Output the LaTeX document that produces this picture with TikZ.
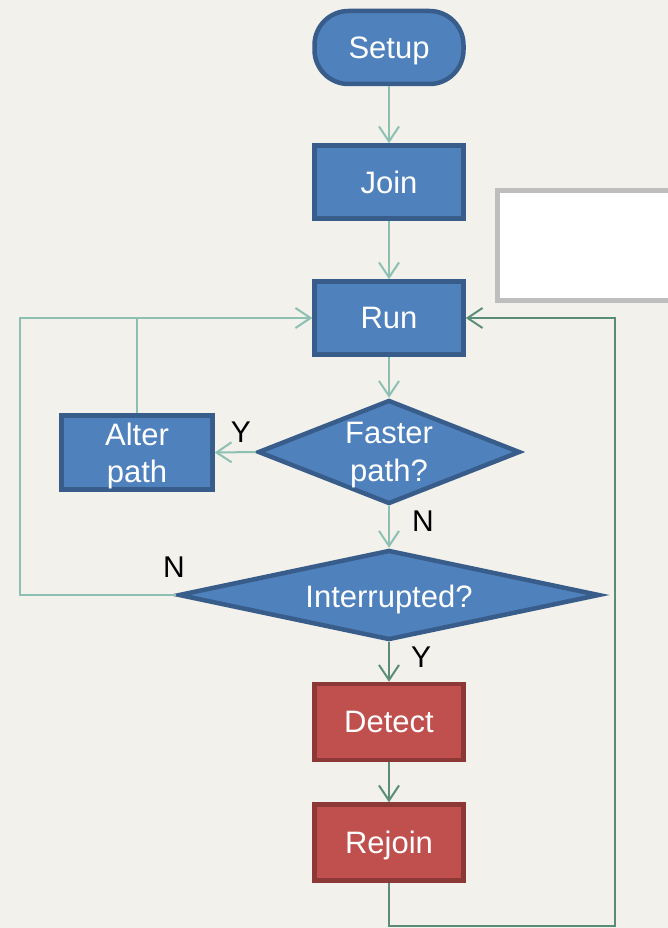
\documentclass[tikz,border=0pt]{standalone}
\usepackage{fontspec}
\setmainfont{Liberation Sans}
\usetikzlibrary{shapes.geometric,arrows.meta}
\definecolor{bgc}{HTML}{F3F1EC}
\definecolor{bfill}{HTML}{4F81BD}
\definecolor{bdraw}{HTML}{385D8A}
\definecolor{rfill}{HTML}{C0504D}
\definecolor{rdraw}{HTML}{8C3836}
\definecolor{lconn}{HTML}{8EBFB3}
\definecolor{dconn}{HTML}{5A8C78}
\definecolor{notegray}{HTML}{BEBEBE}
\tikzset{
  bluebox/.style={rectangle, fill=bfill, draw=bdraw, line width=4.5pt, inner sep=0pt,
    minimum width=149pt, minimum height=73pt, text=white, font=\fontsize{31}{37}\selectfont, align=center, text depth=0pt},
  redbox/.style={bluebox, fill=rfill, draw=rdraw, minimum height=76pt},
  termbox/.style={bluebox, rounded corners=34pt},
  decbox/.style={diamond, fill=bfill, draw=bdraw, line width=4.5pt, inner sep=0pt},
  dtext/.style={text=white, font=\fontsize{31}{38}\selectfont, align=center, inner sep=0pt},
  lab/.style={text=black, font=\fontsize{30}{32}\selectfont, inner sep=0pt},
  tip/.style={-{Straight Barb[length=15pt,width=20pt,line width=2pt]}},
  lline/.style={draw=lconn, line width=2pt},
  dline/.style={draw=dconn, line width=2pt},
}
\begin{document}
\begin{tikzpicture}[x=1pt,y=-1pt]
\useasboundingbox (0,0) rectangle (668,928);
\fill[bgc] (0,0) rectangle (668,928);
% note box (cut off at the right edge)
\node[rectangle, fill=white, draw=notegray, line width=5pt, minimum width=200pt, minimum height=110pt, inner sep=0pt] (note) at (597.5,245.5) {};
% nodes
\node[termbox] (setup) at (389,47.5) {Setup};
\node[bluebox] (join) at (389,182) {Join};
\node[bluebox] (run) at (389,318) {Run};
\node[decbox, minimum width=262pt, minimum height=104pt] (fast) at (389,452) {};
\node[dtext] (fastt) at ([yshift=-3pt]fast.center) {Faster\\path?};
\node[bluebox, minimum width=151pt, minimum height=74pt] (alter) at (137,452.5) {Alter\\path};
\node[decbox, minimum width=421pt, minimum height=90pt] (inter) at (389,595) {};
\node[dtext] (intert) at ([yshift=-4pt]inter.center) {Interrupted?};
\node[redbox] (detect) at (389,722) {Detect};
\node[redbox] (rejoin) at (389,842.5) {Rejoin};
% loop corner coordinates
\coordinate (lb) at (20,595);
\coordinate (lt) at (20,318);
\coordinate (aj) at (137,318);
\coordinate (rb1) at (389,926);
\coordinate (rb2) at (615,926);
\coordinate (rt) at (615,318);
% connectors
\draw[lline, tip] (setup.south) -- (join.north);
\draw[lline, tip] (join.south) -- (run.north);
\draw[lline, tip] (run.south) -- (fast.north);
\draw[lline, tip] (fast.west) -- (alter.east);
\node[lab] (ly) at (241,432) {Y};
\draw[lline, tip] (fast.south) -- (inter.north);
\node[lab] (ln) at (423,521) {N};
\draw[lline, tip] (inter.west) -- (lb) -- (lt) -- (run.west);
\draw[lline] (alter.north) -- (aj);
\node[lab] (ln2) at (174,567) {N};
\draw[dline, tip] (inter.south) -- (detect.north);
\node[lab] (ly2) at (421,657) {Y};
\draw[dline, tip] (detect.south) -- (rejoin.north);
\draw[dline, tip] (rejoin.south) -- (rb1) -- (rb2) -- (rt) -- (run.east);
\end{tikzpicture}
\end{document}
